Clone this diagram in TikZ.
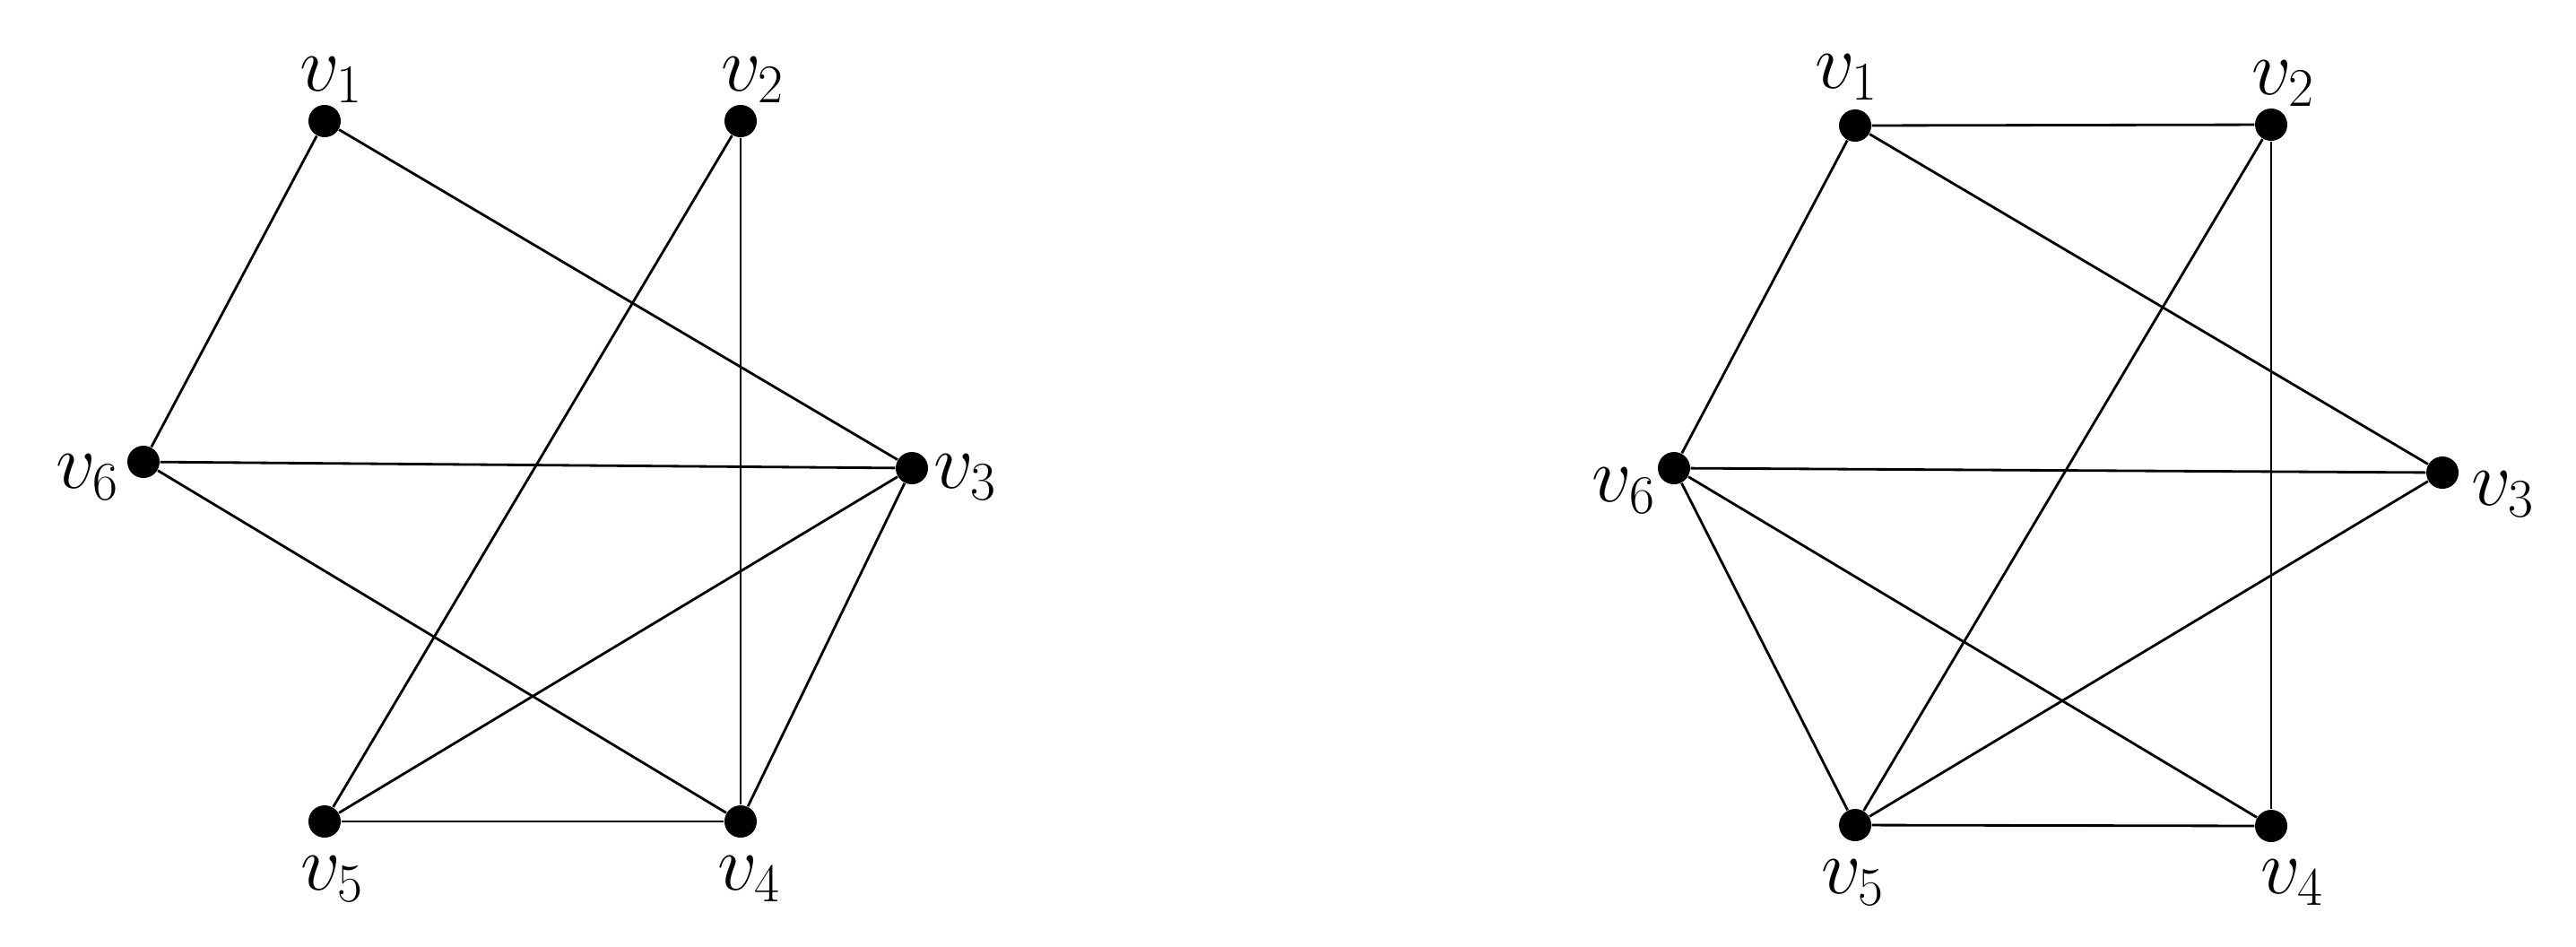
\documentclass[tikz,border=0pt]{standalone}
\usepackage{amsmath}
\usetikzlibrary{positioning}
\tikzset{
  vertex/.style={circle,fill=black,inner sep=0pt,minimum size=3.6mm},
  edge/.style={line width=0.8pt,draw=black},
  vlabel/.style={inner sep=0pt,font=\fontsize{24}{28}\selectfont}
}
\begin{document}
\begin{tikzpicture}
\useasboundingbox (0,0) rectangle (28.73,-10.55);
% left graph
\node[vertex,label={[vlabel,label distance=0.01cm,xshift=0.08cm]above:$v_1$}] (a1) at (3.62,-1.35) {};
\node[vertex,label={[vlabel,label distance=0.01cm,xshift=0.14cm]above:$v_2$}] (a2) at (8.26,-1.35) {};
\node[vertex,label={[vlabel,label distance=0.05cm,yshift=-0.10cm]right:$v_3$}] (a3) at (10.17,-5.22) {};
\node[vertex,label={[vlabel,label distance=0.19cm,xshift=0.10cm]below:$v_4$}] (a4) at (8.26,-9.16) {};
\node[vertex,label={[vlabel,label distance=0.19cm,xshift=0.09cm]below:$v_5$}] (a5) at (3.62,-9.16) {};
\node[vertex,label={[vlabel,label distance=0.07cm,yshift=-0.17cm]left:$v_6$}] (a6) at (1.60,-5.15) {};
\draw[edge] (a1)--(a6);
\draw[edge] (a1)--(a3);
\draw[edge] (a2)--(a5);
\draw[edge] (a2)--(a4);
\draw[edge] (a6)--(a3);
\draw[edge] (a6)--(a4);
\draw[edge] (a3)--(a5);
\draw[edge] (a3)--(a4);
\draw[edge] (a5)--(a4);
% right graph
\node[vertex,label={[vlabel,label distance=0.09cm,xshift=-0.09cm]above:$v_1$}] (b1) at (20.69,-1.40) {};
\node[vertex,label={[vlabel,label distance=0.01cm,xshift=0.14cm]above:$v_2$}] (b2) at (25.33,-1.39) {};
\node[vertex,label={[vlabel,label distance=0.13cm,yshift=-0.24cm]right:$v_3$}] (b3) at (27.24,-5.27) {};
\node[vertex,label={[vlabel,label distance=0.18cm,xshift=0.24cm]below:$v_4$}] (b4) at (25.33,-9.21) {};
\node[vertex,label={[vlabel,label distance=0.19cm,xshift=-0.02cm]below:$v_5$}] (b5) at (20.69,-9.20) {};
\node[vertex,label={[vlabel,label distance=0.01cm,yshift=-0.25cm]left:$v_6$}] (b6) at (18.67,-5.22) {};
\draw[edge] (b1)--(b2);
\draw[edge] (b1)--(b6);
\draw[edge] (b1)--(b3);
\draw[edge] (b2)--(b5);
\draw[edge] (b2)--(b4);
\draw[edge] (b6)--(b3);
\draw[edge] (b6)--(b5);
\draw[edge] (b6)--(b4);
\draw[edge] (b3)--(b5);
\draw[edge] (b5)--(b4);
\end{tikzpicture}
\end{document}
